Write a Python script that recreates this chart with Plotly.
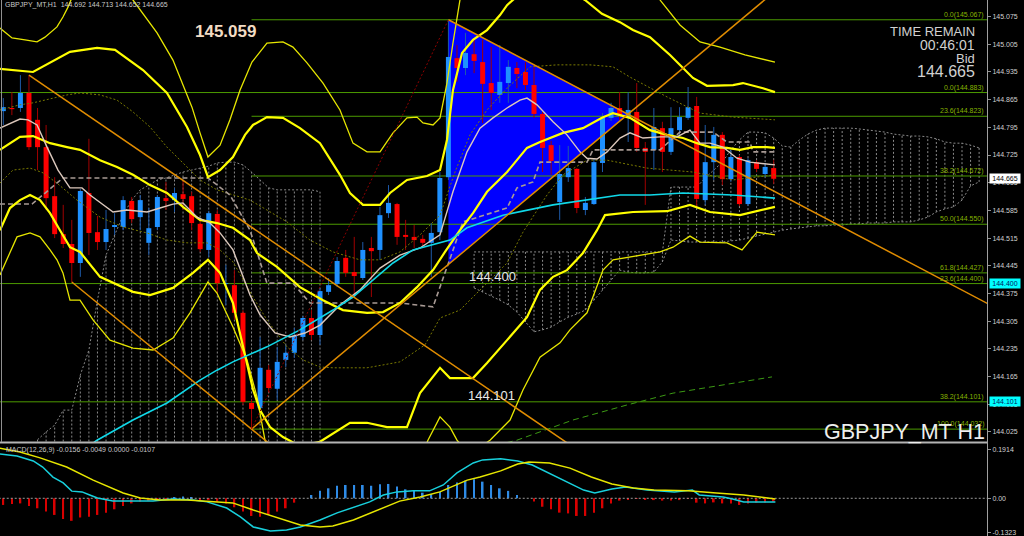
import plotly.graph_objects as go

# ---------------- price bars (GBPJPY H1), bar index 0..90 ----------------
bar_open = [144.836,144.844,144.844,144.882,144.814,144.745,144.621,144.525,144.500,144.452,
            144.629,144.530,144.505,144.543,144.543,144.609,144.568,144.503,144.543,144.616,
            144.611,144.626,144.621,144.551,144.485,144.576,144.399,144.396,144.326,144.098,
            144.085,144.182,144.134,144.207,144.225,144.265,144.313,144.270,144.379,144.399,
            144.465,144.429,144.414,144.490,144.485,144.578,144.601,144.523,144.518,144.513,
            144.503,144.530,144.669,144.970,144.945,144.980,144.960,144.907,144.877,144.907,
            144.945,144.935,144.902,144.829,144.750,144.606,144.669,144.690,144.586,144.601,
            144.705,144.819,144.844,144.819,144.834,144.743,144.738,144.793,144.733,144.788,
            144.819,144.849,144.611,144.707,144.776,144.664,144.720,144.601,144.707,144.677,
            144.692]
bar_high = [144.869,144.884,144.927,144.927,144.844,144.801,144.669,144.599,144.561,144.639,
            144.766,144.571,144.586,144.578,144.621,144.619,144.624,144.591,144.624,144.657,
            144.642,144.659,144.632,144.561,144.584,144.586,144.447,144.434,144.333,144.106,
            144.265,144.194,144.240,144.245,144.288,144.318,144.333,144.389,144.414,144.467,
            144.485,144.518,144.505,144.518,144.594,144.649,144.604,144.561,144.548,144.523,
            144.553,144.682,145.067,145.003,145.034,145.016,145.016,144.998,145.003,144.965,
            144.960,144.960,144.953,144.834,144.761,144.750,144.748,144.692,144.619,144.717,
            144.831,144.857,144.884,144.884,144.907,144.758,144.844,144.809,144.846,144.846,
            144.897,144.872,144.801,144.796,144.783,144.738,144.725,144.717,144.712,144.705,
            144.713]
bar_low = [144.801,144.826,144.834,144.738,144.687,144.586,144.515,144.490,144.404,144.417,
           144.472,144.485,144.485,144.523,144.535,144.553,144.535,144.472,144.535,144.586,
           144.581,144.586,144.535,144.480,144.467,144.376,144.346,144.308,144.093,144.032,
           144.073,144.126,144.106,144.189,144.212,144.257,144.257,144.245,144.371,144.391,
           144.417,144.366,144.409,144.366,144.460,144.566,144.498,144.485,144.490,144.492,
           144.417,144.510,144.662,144.910,144.927,144.932,144.806,144.839,144.857,144.857,
           144.894,144.889,144.819,144.682,144.675,144.561,144.657,144.578,144.573,144.599,
           144.682,144.811,144.814,144.758,144.733,144.599,144.687,144.682,144.725,144.776,
           144.814,144.594,144.599,144.662,144.649,144.657,144.596,144.596,144.682,144.669,
           144.652]
bar_close = [144.846,144.841,144.882,144.745,144.745,144.616,144.525,144.500,144.452,144.634,
             144.528,144.505,144.538,144.548,144.611,144.563,144.611,144.540,144.619,144.609,
             144.629,144.614,144.553,144.487,144.578,144.401,144.401,144.326,144.101,144.083,
             144.187,144.136,144.202,144.225,144.268,144.313,144.270,144.381,144.396,144.457,
             144.427,144.419,144.485,144.482,144.573,144.604,144.518,144.518,144.510,144.503,
             144.528,144.667,144.973,144.945,144.983,144.963,144.905,144.882,144.910,144.948,
             144.930,144.902,144.829,144.743,144.710,144.677,144.692,144.591,144.604,144.707,
             144.819,144.844,144.826,144.839,144.743,144.733,144.796,144.733,144.793,144.821,
             144.846,144.614,144.707,144.776,144.664,144.720,144.601,144.712,144.690,144.695,
             144.665]

# ---------------- indicator lines (bar index, price) ----------------
bb_mid = [(-0.39,144.738),(1.95,144.771),(3.47,144.773),(5.46,144.755),(7.44,144.745),(8.96,144.738),
          (11.30,144.712),(13.28,144.695),(15.15,144.675),(17.14,144.649),(19.12,144.629),(20.99,144.594),
          (22.98,144.561),(24.96,144.553),(26.83,144.541),(28.82,144.510),(29.64,144.477),(31.97,144.442),
          (34.66,144.391),(37.35,144.358),(39.68,144.333),(42.49,144.326),(44.36,144.328),(46.34,144.351),
          (48.33,144.391),(50.20,144.434),(51.60,144.480),(53.35,144.535),(54.87,144.578),(56.51,144.632),
          (58.85,144.682),(61.18,144.743),(62.70,144.758),(65.39,144.781),(67.72,144.793),(69.94,144.819),
          (71.23,144.831),(73.21,144.819),(75.55,144.788),(77.54,144.776),(79.40,144.768),(81.04,144.755),
          (82.56,144.745),(84.54,144.743),(86.06,144.738),(87.58,144.745),(89.22,144.745),(90.15,144.743)]
bb_upper2 = [(-0.39,144.943),(3.47,144.935),(7.79,144.986),(10.95,144.996),(13.05,144.991),(16.32,144.940),
             (19.12,144.882),(21.46,144.796),(22.98,144.725),(23.91,144.669),(25.32,144.687),(26.83,144.720),
             (28.24,144.776),(29.17,144.801),(30.80,144.821),(32.67,144.819),(34.66,144.793),(37.00,144.755),
             (39.33,144.675),(40.50,144.629),(42.02,144.599),(44.01,144.599),(45.18,144.629),(47.16,144.662),
             (49.50,144.672),(51.02,144.687),(51.83,144.763),(52.53,144.889),(53.59,144.983),(54.87,145.016),
             (56.51,145.041),(58.03,145.079),(58.85,145.104),(61.53,145.155),(65.04,145.155),(67.95,145.117),
             (69.94,145.082),(72.04,145.061),(73.56,145.041),(75.55,145.023),(77.89,144.978),(80.57,144.920),
             (82.21,144.900),(85.25,144.902),(86.41,144.907),(88.75,144.894),(90.15,144.884)]
bb_lower2 = [(-0.39,144.535),(0.78,144.591),(1.95,144.611),(3.12,144.624),(4.29,144.611),(5.46,144.578),
             (6.62,144.535),(7.79,144.492),(8.96,144.480),(11.30,144.417),(15.15,144.379),(17.14,144.371),
             (19.82,144.389),(22.16,144.427),(23.91,144.460),(25.32,144.427),(26.83,144.351),(28.00,144.240),
             (29.17,144.132),(29.99,144.080),(31.16,144.037),(32.67,144.012),(34.66,143.989),(37.00,144.000),
             (38.75,144.025),(40.50,144.048),(42.49,144.048),(44.83,144.037),(47.16,144.037),(48.68,144.123),
             (51.02,144.187),(52.18,144.161),(54.87,144.161),(56.51,144.199),(58.85,144.257),(61.18,144.315),
             (62.70,144.384),(64.22,144.417),(65.85,144.434),(67.72,144.477),(69.36,144.535),(70.29,144.573),
             (73.56,144.581),(77.54,144.583),(80.22,144.599),(82.56,144.581),(86.06,144.573),(87.58,144.581),
             (90.15,144.594)]
bb_upper3 = [(-0.39,145.046),(1.02,145.021),(2.54,145.016),(3.94,145.011),(4.87,145.023),(6.27,145.049),
             (6.97,145.074),(7.56,145.099),(8.38,145.142),(12.46,145.193),(15.15,145.117),(17.96,145.034),
             (19.82,144.965),(20.64,144.922),(22.04,144.846),(22.98,144.781),(23.91,144.720),(25.32,144.750),
             (26.48,144.814),(27.65,144.889),(29.05,144.960),(30.80,145.008),(32.67,145.011),(33.84,144.998),
             (35.48,144.958),(37.35,144.907),(39.33,144.839),(40.85,144.755),(42.49,144.733),(44.01,144.733),
             (45.53,144.781),(47.16,144.819),(48.33,144.821),(49.03,144.806),(50.20,144.801),(51.02,144.819),
             (51.83,144.907),(52.53,145.008),(53.35,145.117),(54.52,145.218),(69.71,145.269),(75.55,145.168),
             (76.72,145.117),(79.05,145.054),(81.39,145.011),(83.73,144.998),(86.64,144.978),(90.15,144.960)]
bb_lower3 = [(-0.39,144.422),(0.43,144.460),(1.60,144.518),(3.12,144.528),(4.29,144.518),(5.46,144.485),
             (6.27,144.460),(6.97,144.427),(7.79,144.358),(8.96,144.358),(10.48,144.308),(12.46,144.257),
             (15.15,144.237),(17.49,144.232),(19.82,144.262),(21.81,144.326),(23.91,144.404),(24.96,144.376),
             (26.83,144.290),(28.47,144.207),(29.64,144.113),(30.57,144.004),(32.32,143.903),(38.17,143.802),
             (46.34,143.853),(48.68,143.954),(49.61,144.004),(51.02,144.063),(52.18,144.037),(53.00,144.004),
             (54.52,143.967),(56.86,144.004),(59.20,144.055),(60.71,144.131),(62.70,144.214),(65.04,144.250),
             (66.20,144.283),(68.19,144.326),(70.06,144.434),(71.23,144.460),(74.38,144.472),(76.72,144.480),
             (78.24,144.492),(80.22,144.520),(81.39,144.505),(84.54,144.503),(86.30,144.485),(88.05,144.530),
             (90.15,144.523)]
bb_upper1 = [(-0.39,144.839),(1.95,144.852),(3.47,144.857),(7.44,144.877),(8.96,144.882),(11.30,144.877),
             (13.28,144.864),(15.15,144.834),(17.14,144.796),(19.12,144.745),(20.99,144.705),(22.98,144.662),
             (24.96,144.637),(28.82,144.611),(30.80,144.586),(33.14,144.556),(35.83,144.510),(38.52,144.480),
             (41.67,144.460),(44.01,144.460),(46.34,144.480),(48.68,144.523),(51.02,144.573),(52.77,144.682),
             (54.52,144.776),(56.51,144.839),(58.85,144.894),(61.53,144.948),(64.68,144.953),(68.54,144.953),
             (71.23,144.948),(73.21,144.922),(77.54,144.872),(81.39,144.831),(85.25,144.821),(90.15,144.814)]
bb_lower1 = [(-0.39,144.654),(1.13,144.687),(3.12,144.692),(4.64,144.680),(6.27,144.654),(8.61,144.611),
             (11.30,144.568),(13.98,144.543),(16.79,144.528),(19.12,144.510),(21.46,144.503),(23.80,144.503),
             (25.32,144.485),(26.83,144.455),(29.17,144.366),(30.80,144.308),(33.14,144.240),(35.01,144.207),
             (37.00,144.189),(38.52,144.187),(42.49,144.187),(46.34,144.202),(49.26,144.245),(51.02,144.313),
             (53.35,144.333),(55.69,144.384),(58.85,144.452),(60.71,144.530),(63.52,144.624),(65.39,144.675),
             (68.19,144.712),(70.53,144.712),(75.20,144.692),(80.57,144.682),(85.25,144.662),(90.15,144.675)]
ma_fast = [(-0.39,144.793),(1.95,144.816),(2.89,144.814),(3.94,144.801),(5.11,144.745),(6.39,144.687),
           (7.79,144.642),(9.19,144.642),(10.13,144.624),(11.30,144.606),(12.82,144.581),(14.45,144.586),
           (16.79,144.581),(18.31,144.591),(19.82,144.601),(20.99,144.604),(22.63,144.568),(24.15,144.553),
           (25.32,144.528),(26.83,144.485),(28.82,144.371),(29.99,144.321),(31.74,144.275),(33.49,144.265),
           (35.24,144.275),(37.00,144.295),(39.33,144.346),(41.67,144.384),(44.01,144.439),(46.34,144.472),
           (48.68,144.490),(51.02,144.523),(52.53,144.632),(54.17,144.733),(55.69,144.793),(57.21,144.819),
           (58.85,144.844),(60.36,144.864),(61.18,144.869),(62.35,144.852),(64.22,144.809),(65.85,144.776),
           (67.37,144.733),(68.19,144.717),(69.36,144.715),(70.53,144.733),(72.04,144.768),(73.21,144.781),
           (74.73,144.768),(76.72,144.771),(78.70,144.771),(80.22,144.788),(81.39,144.755),(82.56,144.755),
           (84.08,144.745),(85.71,144.717),(87.23,144.707),(90.15,144.700)]
ma_slow = [(7.79,143.954),(10.95,144.004),(15.15,144.055),(19.12,144.098),(22.98,144.156),(24.96,144.181),
           (26.83,144.202),(29.99,144.232),(30.80,144.240),(34.66,144.283),(38.52,144.333),(40.85,144.366),
           (43.19,144.409),(45.53,144.452),(47.86,144.485),(50.20,144.498),(52.18,144.510),(54.17,144.541),
           (58.38,144.573),(64.22,144.599),(68.19,144.611),(72.04,144.624),(75.55,144.624),(79.40,144.629),
           (85.25,144.624),(90.15,144.616)]
ma_long = [(57.68,143.992),(60.01,144.004),(66.55,144.055),(72.86,144.093),(78.24,144.123),(84.08,144.144),
           (89.80,144.164)]
kijun = [(-0.39,144.601),(3.35,144.601),(6.97,144.667),(23.91,144.667),(26.48,144.624),(28.82,144.535),
         (30.80,144.401),(33.84,144.401),(35.83,144.351),(46.34,144.351),(50.20,144.341),(53.70,144.556),
         (58.85,144.591),(60.01,144.642),(61.88,144.657),(62.70,144.707),(68.19,144.707),(68.89,144.738),
         (76.72,144.738),(79.05,144.783),(82.91,144.783),(84.54,144.758),(87.23,144.758),(87.58,144.733),
         (90.15,144.733)]

# Ichimoku cloud (hatched), per bar
cloud1_idx = list(range(4, 38))
cloud1_top = [144.005,144.025,144.042,144.080,144.080,144.169,144.232,144.358,144.472,144.523,
              144.573,144.611,144.637,144.649,144.662,144.667,144.675,144.682,144.687,144.692,
              144.697,144.705,144.707,144.707,144.700,144.682,144.662,144.642,144.637,144.637,
              144.637,144.637,144.637,144.632]
cloud1_floor = 143.95
cloud2_idx = list(range(55, 115))
cloud2_top = [144.480,144.480,144.480,144.480,144.480,144.480,144.480,144.480,144.480,144.480,
              144.480,144.480,144.480,144.480,144.480,144.480,144.480,144.480,144.480,144.480,
              144.480,144.480,144.480,
              144.644,144.644,144.644,144.644,144.667,144.687,144.707,144.738,144.763,144.783,
              144.783,144.781,144.768,144.748,144.745,144.763,144.778,144.788,144.793,144.793,
              144.793,144.793,144.791,144.788,144.786,144.783,144.778,144.776,144.773,144.773,
              144.771,144.766,144.758,144.755,144.755,144.750,144.743]
cloud2_bottom = [144.389,144.379,144.369,144.358,144.346,144.328,144.303,144.278,144.283,144.290,
                 144.303,144.315,144.323,144.333,144.358,144.384,144.409,144.434,144.429,144.427,
                 144.427,144.429,144.455,
                 144.510,144.508,144.505,144.505,144.505,144.505,144.505,144.508,144.510,144.515,
                 144.520,144.525,144.530,144.535,144.538,144.541,144.543,144.546,144.546,144.548,
                 144.548,144.551,144.551,144.553,144.553,144.553,144.556,144.556,144.556,144.561,
                 144.568,144.581,144.589,144.594,144.611,144.647,144.657]

# ---------------- drawn objects ----------------
fib_a_start = 29
fib_a_levels = ["0.0", "23.6", "38.2", "50.0", "61.8", "100.0"]
fib_a_prices = [145.067, 144.823, 144.672, 144.550, 144.427, 144.032]
fib_b_levels = ["0.0", "23.6", "38.2"]
fib_b_prices = [144.883, 144.400, 144.101]
trend1_x, trend1_p = [3, 70], [144.927, 143.936]
trend2_x, trend2_p = [8, 32], [144.404, 143.979]
trend3_x, trend3_p = [52, 116], [145.067, 144.338]
trend4_x, trend4_p = [29, 95], [144.032, 145.227]
fib_base_x, fib_base_p = [29, 52], [144.032, 145.067]
triangle_x = [52, 52, 73]
triangle_p = [145.067, 144.449, 144.828]

# ---------------- MACD(12,26,9) ----------------
macd_hist = [-0.026,-0.022,-0.020,-0.030,-0.039,-0.052,-0.065,-0.081,-0.088,-0.075,
             -0.072,-0.065,-0.056,-0.043,-0.030,-0.020,-0.013,-0.010,-0.004,-0.001,
             0.004,0.007,0.003,-0.004,-0.007,-0.013,-0.020,-0.035,-0.052,-0.069,
             -0.072,-0.065,-0.052,-0.039,-0.017,0.000,0.013,0.029,0.039,0.049,
             0.052,0.052,0.052,0.049,0.055,0.056,0.046,0.035,0.030,0.022,
             0.017,0.026,0.052,0.062,0.069,0.074,0.065,0.052,0.039,0.029,
             0.013,0.000,-0.013,-0.033,-0.043,-0.056,-0.059,-0.069,-0.069,-0.056,
             -0.039,-0.020,-0.009,-0.003,-0.001,-0.004,-0.007,-0.009,-0.009,-0.007,
             -0.001,-0.017,-0.020,-0.016,-0.020,-0.020,-0.026,-0.020,-0.017,-0.016,
             -0.013]
macd_main = [(-0.4,0.173),(1.6,0.165),(3.5,0.146),(4.6,0.122),(5.8,0.083),(7.0,0.060),(8.0,0.028),
             (9.2,0.025),(10.1,0.013),(11.0,0.001),(12.8,-0.011),(15.2,-0.011),(17.5,-0.011),(19.8,-0.003),
             (22.2,-0.007),(23.8,-0.014),(26.1,-0.038),(27.7,-0.073),(29.2,-0.112),(31.2,-0.128),
             (33.1,-0.124),(34.7,-0.112),(37.0,-0.085),(39.0,-0.057),(40.9,-0.034),(42.8,-0.014),
             (44.4,0.013),(46.0,0.025),(47.9,0.029),(49.8,0.029),(51.4,0.052),(53.0,0.099),(54.9,0.138),
             (56.0,0.150),(58.1,0.154),(60.1,0.146),(61.8,0.130),(65.0,0.079),(67.8,0.032),(69.1,0.021),
             (71.1,0.036),(72.7,0.044),(75.2,0.032),(78.4,0.025),(80.5,0.032),(81.3,0.013),(84.1,0.005),
             (85.2,-0.003),(86.5,-0.014),(90.2,-0.014)]
macd_signal = [(-0.4,0.196),(1.95,0.181),(4.3,0.158),(7.4,0.122),(10.5,0.071),(14.0,0.021),(16.0,0.001),
               (18.3,-0.007),(21.5,-0.007),(24.5,-0.014),(26.8,-0.018),(29.2,-0.046),(32.0,-0.077),
               (34.7,-0.104),(37.0,-0.112),(38.5,-0.108),(40.9,-0.085),(43.2,-0.054),(46.3,-0.011),
               (48.7,0.005),(51.0,0.025),(54.2,0.071),(55.7,0.083),(58.1,0.107),(60.1,0.134),(61.4,0.142),
               (63.8,0.138),(66.2,0.118),(68.7,0.083),(71.1,0.056),(73.6,0.040),(76.0,0.032),(80.0,0.029),
               (83.3,0.021),(86.5,0.013),(90.2,-0.003)]

price_ticks = [145.075, 145.005, 144.935, 144.865, 144.795, 144.725, 144.655, 144.585,
               144.515, 144.445, 144.375, 144.305, 144.235, 144.165, 144.095, 144.025]
macd_ticks = [0.1914, 0.0, -0.1323]
macd_tick_text = ["0.1914", "0.00", "-0.1323"]

# ---------------- figure ----------------
W, H = 1024, 536
AX_R = 987 / W
XR = [-0.3855, 114.92]
FONT = "Liberation Sans"
fig = go.Figure()


def add_line(pts, color, width, dash="solid", xa="x", ya="y"):
    xs, ys = zip(*pts)
    fig.add_trace(go.Scatter(x=list(xs), y=list(ys), mode="lines", xaxis=xa, yaxis=ya,
                             line=dict(color=color, width=width, dash=dash),
                             hoverinfo="skip", showlegend=False))


# ichimoku hatch
hx, hy = [], []
for i, t in zip(cloud1_idx, cloud1_top):
    hx += [i, i, None]
    hy += [cloud1_floor, t, None]
for i, t, b in zip(cloud2_idx, cloud2_top, cloud2_bottom):
    hx += [i, i, None]
    hy += [b, t, None]
fig.add_trace(go.Scatter(x=hx, y=hy, mode="lines", line=dict(color="#8A8A8A", width=1, dash="2px,2px"),
                         hoverinfo="skip", showlegend=False))
add_line(list(zip(cloud1_idx, cloud1_top)), "#8A8A8A", 1, "2px,2px")
add_line(list(zip(cloud2_idx, cloud2_top)), "#8A8A8A", 1, "2px,2px")
add_line(list(zip(cloud2_idx, cloud2_bottom)), "#8A8A8A", 1, "2px,2px")

# fibonacci levels
for p in fib_a_prices:
    add_line([(fib_a_start, p), (116, p)], "#4C9A00", 1)
for p in fib_b_prices:
    add_line([(-1, p), (116, p)], "#4C9A00", 1)

add_line(ma_long, "#3C9A14", 1, "6px,4px")

# candles: wicks, then bodies (thick segments)
up = [c >= o for o, c in zip(bar_open, bar_close)]
for flag, col in ((True, "#1E5AA8"), (False, "#A00000")):
    wx, wy = [], []
    for i in range(len(bar_open)):
        if up[i] == flag:
            wx += [i, i, None]
            wy += [bar_low[i], bar_high[i], None]
    fig.add_trace(go.Scatter(x=wx, y=wy, mode="lines", line=dict(color=col, width=1),
                             hoverinfo="skip", showlegend=False))
for flag, col in ((True, "#1E90FF"), (False, "#FF0000")):
    bx, by = [], []
    for i in range(len(bar_open)):
        if up[i] == flag:
            lo = min(bar_open[i], bar_close[i])
            hi = max(max(bar_open[i], bar_close[i]), lo + 0.0012)
            bx += [i, i, None]
            by += [lo, hi, None]
    fig.add_trace(go.Scatter(x=bx, y=by, mode="lines", line=dict(color=col, width=5),
                             hoverinfo="skip", showlegend=False))

# indicators
add_line(bb_upper1, "#7A7A00", 1, "2px,2px")
add_line(bb_lower1, "#7A7A00", 1, "2px,2px")
add_line(kijun, "#A89A94", 1.6, "5px,3px")
add_line(bb_upper3, "#E6E600", 1.3)
add_line(bb_lower3, "#E6E600", 1.3)
add_line(bb_upper2, "#FFFF00", 2.2)
add_line(bb_lower2, "#FFFF00", 2.2)
add_line(bb_mid, "#FFFF00", 2.2)
add_line(ma_fast, "#DCC8BC", 1.4)
add_line(ma_slow, "#10D8E8", 1.6)

# trend lines
for tx, tp in ((trend1_x, trend1_p), (trend2_x, trend2_p), (trend3_x, trend3_p), (trend4_x, trend4_p)):
    add_line(list(zip(tx, tp)), "#E08C00", 1.5)
add_line(list(zip(fib_base_x, fib_base_p)), "#8B0000", 1, "2px,2px")

# MACD panel
add_line([(-1, 0), (116, 0)], "#9A9A9A", 1, "2px,2px", "x2", "y2")
fig.add_trace(go.Bar(x=list(range(len(macd_hist))), y=macd_hist, width=0.2, xaxis="x2", yaxis="y2",
                     marker=dict(color=["#2E8BE6" if v >= 0 else "#D80000" for v in macd_hist], line=dict(width=0)),
                     hoverinfo="skip", showlegend=False))
add_line(macd_main, "#18D0DC", 1.5, "solid", "x2", "y2")
add_line(macd_signal, "#E6E600", 1.5, "solid", "x2", "y2")

axis_common = dict(showgrid=False, zeroline=False, showline=False, fixedrange=True)
fig.update_layout(
    width=W, height=H, margin=dict(l=0, r=0, t=0, b=0), autosize=False,
    paper_bgcolor="#000000", plot_bgcolor="#000000", showlegend=False, barmode="overlay",
    font=dict(family=FONT, color="#D0D0D0"),
    xaxis=dict(domain=[0, AX_R], range=XR, visible=False, anchor="y", **axis_common),
    xaxis2=dict(domain=[0, AX_R], range=XR, visible=False, anchor="y2", **axis_common),
    yaxis=dict(domain=[94 / H, 1], range=[143.9994, 145.117], side="right", anchor="x",
               tickvals=price_ticks, ticktext=["%.3f" % v for v in price_ticks],
               tickfont=dict(family=FONT, size=7, color="#D0D0D0"), ticks="outside", ticklen=3,
               tickcolor="#909090", automargin=False, **axis_common),
    yaxis2=dict(domain=[0, 92 / H], range=[-0.1473, 0.2121], side="right", anchor="x2",
                tickvals=macd_ticks, ticktext=macd_tick_text,
                tickfont=dict(family=FONT, size=7, color="#D0D0D0"), ticks="outside", ticklen=3,
                tickcolor="#909090", automargin=False, **axis_common),
)

tri_path = "M %s,%s L %s,%s L %s,%s Z" % (triangle_x[0], triangle_p[0], triangle_x[1], triangle_p[1],
                                          triangle_x[2], triangle_p[2])
shapes = [
    dict(type="path", xref="x", yref="y", path=tri_path, fillcolor="#0000FF",
         line=dict(width=0), layer="below"),
    dict(type="line", xref="paper", yref="paper", x0=0, x1=AX_R, y0=1 - 442.5 / H, y1=1 - 442.5 / H,
         line=dict(color="#B4B4B4", width=2)),
    dict(type="line", xref="paper", yref="paper", x0=987.5 / W, x1=987.5 / W, y0=0, y1=1,
         line=dict(color="#A0A0A0", width=1)),
    dict(type="line", xref="paper", yref="paper", x0=1.5 / W, x1=1.5 / W, y0=1 - 442 / H, y1=1,
         line=dict(color="#909090", width=1)),
]
fig.update_layout(shapes=shapes)

ann = []


def txt(text, x, y, size, color="#D8D8D8", xanchor="left", xref="paper", yref="paper", bold=False, **kw):
    ann.append(dict(text=("<b>%s</b>" % text) if bold else text, x=x, y=y, xref=xref, yref=yref,
                    xanchor=xanchor, yanchor="middle", showarrow=False,
                    font=dict(family=FONT, size=size, color=color), **kw))


def px(xp):
    return xp / W


def py(yp):
    return 1 - yp / H


for lvl, p in zip(fib_a_levels, fib_a_prices):
    txt("%s(%.3f)" % (lvl, p), px(986), p, 7, "#86B300", "right", yref="y", yshift=5)
for lvl, p in zip(fib_b_levels, fib_b_prices):
    txt("%s(%.3f)" % (lvl, p), px(986), p, 7, "#86B300", "right", yref="y", yshift=5)

txt("GBPJPY_MT,H1  144.692 144.713 144.652 144.665", px(3), py(4.5), 7, "#C8C8C8")
txt("MACD(12,26,9) -0.0156 -0.0049 0.0000 -0.0107", px(4), py(449.5), 7, "#C8C8C8")
txt("145.059", 25.9, 145.037, 17, "#F2DCC4", "center", xref="x", yref="y", bold=True)
txt("144.400", 57.1, 144.417, 13, "#E8E8E8", "center", xref="x", yref="y")
txt("144.101", 57.0, 144.118, 13, "#E8E8E8", "center", xref="x", yref="y")
txt("TIME REMAIN", px(977), py(32), 13, "#D0D0D0", "right")
txt("00:46:01", px(977), py(44.5), 14, "#D0D0D0", "right")
txt("Bid", px(977), py(59), 13, "#D0D0D0", "right")
txt("144.665", px(977), py(71), 16, "#D0D0D0", "right")
txt("GBPJPY_MT H1", px(987), py(431.5), 21.5, "#EEEEEE", "right")

# price boxes on the right scale
for val, bg, fg in ((144.665, "#FFFFFF", "#000000"), (144.400, "#00FFFF", "#002060"), (144.101, "#00FFFF", "#002060")):
    ann.append(dict(text="%.3f" % val, x=px(988.5), y=val, xref="paper", yref="y", xanchor="left",
                    yanchor="middle", showarrow=False, bgcolor=bg, borderpad=1, width=28,
                    font=dict(family=FONT, size=7, color=fg)))

fig.update_layout(annotations=ann)

fig.write_html("out.html", config={"displayModeBar": False},
               post_script="document.body.style.margin='0';document.body.style.overflow='hidden';")
